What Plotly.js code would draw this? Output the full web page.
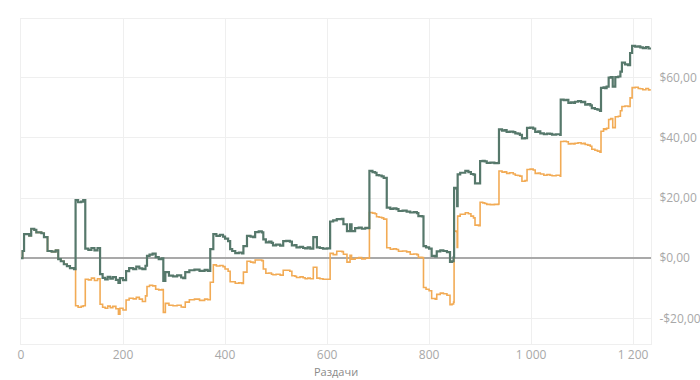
<!DOCTYPE html>
<html>
<head>
<meta charset="utf-8">
<script src="https://cdn.plot.ly/plotly-3.0.1.min.js"></script>
<style>
html,body{margin:0;padding:0;background:#fff;}
#chart{width:700px;height:380px;}
</style>
</head>
<body>
<div id="chart"></div>
<script>
const hands = [0,3,6,12,16,20,26,30,40,45,52,60,68,73,78,84,90,96,104,
107,112,118,122,126,132,138,144,150,155,160,165,170,175,180,186,191,194,200,
206,212,220,226,232,238,244,247,252,258,264,270,276,279,283,290,298,306,314,318,
322,330,340,350,360,366,371,377,383,390,396,400,406,410,414,420,427,433,436,443,
450,455,459,466,472,475,480,486,491,494,500,508,514,520,527,531,537,540,547,553,
557,562,567,573,580,586,592,600,606,612,619,629,632,639,645,648,655,662,668,675,
681,683,689,694,697,702,707,711,717,724,730,736,740,748,756,763,770,776,779,786,
789,794,800,805,812,815,822,828,835,841,845,848,849,854,855,856,861,867,871,877,
882,887,890,897,900,905,909,913,920,928,936,937,943,948,952,958,965,969,974,978,
982,988,992,998,1004,1008,1014,1018,1025,1031,1037,1041,1049,1057,1058,1064,1069,1073,1078,1083,
1086,1092,1098,1103,1106,1111,1116,1119,1125,1130,1135,1137,1142,1145,1148,1152,1156,1160,1165,1171,
1175,1178,1184,1190,1194,1198,1204,1210,1214,1219,1225,1230,1233];

const netWon = [0,2.4,8.0,8.0,7.5,9.8,9.4,8.6,8.3,7.0,2.4,2.2,2.6,-0.3,-1.0,-2.0,-2.6,-3.3,-3.6,
19.3,18.6,18.8,19.3,3.2,2.8,3.4,2.6,3.4,-5.3,-6.5,-7.0,-6.2,-6.8,-6.3,-7.2,-8.2,-6.6,-7.3,
-4.3,-3.3,-3.6,-2.8,-3.4,-3.6,-2.5,0.8,1.2,1.5,0.4,-0.3,0.0,-7.5,-4.6,-5.8,-6.0,-5.7,-6.4,-6.6,
-4.6,-4.0,-3.8,-4.2,-3.9,-4.2,3.0,8.0,7.4,7.8,7.2,6.5,5.7,3.0,2.4,1.7,1.9,1.6,4.0,7.4,
7.2,7.0,8.7,8.9,8.6,6.3,5.3,5.5,5.1,4.3,4.5,4.2,5.7,5.8,5.5,4.3,4.4,3.6,3.8,3.4,
3.3,3.6,3.2,7.0,3.6,3.4,3.2,3.3,12.2,12.6,13.0,13.1,11.3,9.0,11.3,9.0,10.0,10.2,9.8,10.1,
10.0,29.0,28.6,28.4,27.6,27.5,27.2,26.7,16.8,16.4,16.6,16.3,15.7,15.8,15.5,15.2,15.3,15.0,14.0,13.9,
4.0,3.6,3.2,0.8,0.6,2.3,2.6,2.4,2.0,-1.2,-1.0,0.3,23.4,23.0,17.3,27.9,28.4,28.4,29.0,28.6,
28.0,27.8,24.9,24.9,32.3,32.4,32.2,31.7,31.8,31.6,31.7,42.8,42.4,42.6,42.0,42.1,41.9,41.5,41.4,41.0,
39.8,39.9,43.3,43.4,43.1,42.0,42.2,41.5,41.2,41.4,41.3,41.1,41.2,41.0,52.7,52.5,52.6,51.6,51.8,51.6,
52.0,52.2,51.9,52.0,51.0,51.2,50.8,49.9,49.6,49.4,49.0,56.6,56.8,56.5,57.0,60.0,60.2,57.0,60.2,60.4,
62.0,65.0,64.4,64.2,68.2,70.6,70.3,70.4,70.1,69.8,70.2,69.7,70.0];

const allInEv = [0,2.4,8.0,8.0,7.5,9.8,9.4,8.6,8.3,7.0,2.4,2.2,2.6,-0.3,-1.0,-2.0,-2.6,-3.3,-3.6,
-15.8,-16.3,-16.0,-15.8,-7.0,-7.2,-6.6,-7.4,-6.8,-15.3,-16.3,-16.6,-15.9,-16.4,-16.0,-16.8,-18.6,-16.6,-17.2,
-13.9,-13.3,-13.5,-13.0,-13.6,-14.4,-12.5,-9.4,-9.0,-9.2,-10.3,-10.5,-10.4,-18.0,-15.0,-15.6,-15.8,-15.6,-16.2,-16.3,
-14.6,-13.8,-13.6,-14.0,-13.6,-13.8,-8.0,-2.2,-2.6,-2.4,-2.8,-3.6,-4.3,-7.8,-7.8,-8.3,-8.2,-8.4,-4.6,-1.0,
-1.3,-1.5,-0.6,-0.6,-0.8,-3.6,-5.0,-4.9,-5.3,-5.5,-5.3,-5.6,-4.0,-4.0,-4.3,-5.8,-6.0,-6.4,-6.2,-6.5,
-6.8,-6.6,-6.8,-3.0,-6.6,-6.8,-7.0,-7.0,1.6,1.2,2.3,2.2,1.3,-1.3,1.0,-0.3,0.0,0.2,-0.2,0.1,
0.0,15.2,15.0,14.8,13.8,13.6,13.4,13.0,3.5,3.0,3.1,2.9,2.3,2.4,2.1,1.3,1.4,1.2,0.3,0.2,
-9.7,-10.3,-10.8,-13.4,-13.6,-12.0,-11.6,-11.8,-12.3,-15.4,-15.2,-14.6,9.0,8.8,3.6,14.0,14.6,14.6,15.1,14.8,
14.0,13.4,11.0,10.8,18.6,18.4,18.2,17.9,17.8,17.9,18.0,29.0,28.6,28.7,28.2,28.4,28.0,27.6,27.5,27.3,
25.6,25.8,29.5,29.6,29.3,28.2,28.3,28.0,27.6,27.8,27.6,27.4,27.6,27.3,38.8,38.9,38.7,38.0,38.1,38.0,
38.2,38.4,38.1,38.2,37.8,37.6,37.2,36.2,35.9,35.6,35.2,42.2,43.0,42.8,43.2,46.1,46.4,43.4,47.0,47.2,
49.0,50.4,50.6,50.4,53.3,56.7,56.8,56.4,56.3,56.0,56.4,55.9,56.2];

const xTickVals = [0,200,400,600,800,1000,1200];
const xTickText = ["0","200","400","600","800","1 000","1 200"];
const yTickVals = [-20,0,20,40,60];
const yTickText = ["-$20,00","$0,00","$20,00","$40,00","$60,00"];
const xTitle = 'Раздачи';

const traces = [
  {x: hands, y: allInEv, type: 'scatter', mode: 'lines', name: 'EV',
   line: {color: '#f2ab55', width: 1.6, shape: 'hv'}, hoverinfo: 'skip'},
  {x: hands, y: netWon, type: 'scatter', mode: 'lines', name: 'Выигрыш',
   line: {color: '#56786b', width: 2.2, shape: 'hv'}, hoverinfo: 'skip'}
];

const layout = {
  width: 700, height: 380,
  margin: {l: 21, r: 49, t: 19, b: 36},
  paper_bgcolor: '#ffffff', plot_bgcolor: '#ffffff',
  showlegend: false,
  font: {family: 'Open Sans, Noto Sans, sans-serif', size: 12, color: '#a0a0a0'},
  xaxis: {
    range: [0, 1235], tickvals: xTickVals, ticktext: xTickText,
    showgrid: true, gridcolor: '#efefef', gridwidth: 1,
    zeroline: false, showline: true, linecolor: '#efefef', mirror: true,
    ticks: '', ticklen: 0, ticklabelstandoff: 0, tickfont: {size: 12, color: '#a8a8a8'}
  },
  yaxis: {
    side: 'right', range: [-28.5, 79.5], tickvals: yTickVals, ticktext: yTickText,
    showgrid: true, gridcolor: '#efefef', gridwidth: 1,
    zeroline: true, zerolinecolor: '#a9a9a9', zerolinewidth: 1.5,
    showline: true, linecolor: '#efefef', mirror: true,
    ticks: '', ticklabelstandoff: 5, tickfont: {size: 12, color: '#a8a8a8'}
  },
  annotations: [
    {text: xTitle, xref: 'paper', yref: 'paper', x: 0.5, y: -0.1105,
     xanchor: 'center', yanchor: 'bottom', showarrow: false, borderpad: 0,
     font: {size: 11, color: '#8a8a8a'}}
  ]
};

Plotly.newPlot('chart', traces, layout, {displayModeBar: false, staticPlot: true});
</script>
</body>
</html>
